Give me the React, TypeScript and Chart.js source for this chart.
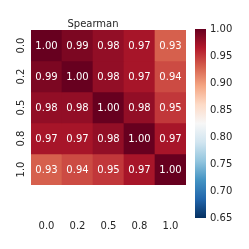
import React, { useEffect, useRef } from "react";
import { Chart, registerables } from "chart.js";

Chart.register(...registerables);

const xLabels = ["0.0", "0.2", "0.5", "0.8", "1.0"];
const yLabels = ["0.0", "0.2", "0.5", "0.8", "1.0"];
const row0 = [1.0, 0.99, 0.98, 0.97, 0.93];
const row1 = [0.99, 1.0, 0.98, 0.97, 0.94];
const row2 = [0.98, 0.98, 1.0, 0.98, 0.95];
const row3 = [0.97, 0.97, 0.98, 1.0, 0.97];
const row4 = [0.93, 0.94, 0.95, 0.97, 1.0];
const rows = [row0, row1, row2, row3, row4];
const vmin = 0.65;
const vmax = 1.0;
const cbarTicks = [0.65, 0.7, 0.75, 0.8, 0.85, 0.9, 0.95, 1.0];
const title = "Spearman";

// RdBu_r stops
const stops: number[][] = [
  [5, 48, 97],
  [33, 102, 172],
  [67, 147, 195],
  [146, 197, 222],
  [209, 229, 240],
  [247, 247, 247],
  [253, 219, 199],
  [244, 165, 130],
  [214, 96, 77],
  [178, 24, 43],
  [103, 0, 31],
];

function cmap(v: number): string {
  let t = (v - vmin) / (vmax - vmin);
  t = Math.max(0, Math.min(1, t));
  const p = t * (stops.length - 1);
  const i = Math.min(stops.length - 2, Math.floor(p));
  const f = p - i;
  const a = stops[i];
  const b = stops[i + 1];
  const c = a.map((x, k) => Math.round(x + (b[k] - x) * f));
  return `rgb(${c[0]},${c[1]},${c[2]})`;
}

const FONT = "'DejaVu Sans', sans-serif";

const annotPlugin = {
  id: "annot",
  afterDatasetsDraw(chart: any) {
    const ctx = chart.ctx;
    ctx.save();
    ctx.fillStyle = "#ffffff";
    ctx.font = `10px ${FONT}`;
    ctx.textAlign = "center";
    ctx.textBaseline = "middle";
    chart.data.datasets.forEach((ds: any, di: number) => {
      const meta = chart.getDatasetMeta(di);
      meta.data.forEach((el: any, j: number) => {
        const { x, y, base } = el.getProps(["x", "y", "base"], true);
        ctx.fillText(rows[di][j].toFixed(2), x, (y + base) / 2 + 0.5);
      });
    });
    ctx.restore();
  },
};

export default function App() {
  const hmRef = useRef<HTMLCanvasElement>(null);
  const cbRef = useRef<HTMLCanvasElement>(null);

  useEffect(() => {
    const datasets = rows.map((r, i) => ({
      label: yLabels[i],
      data: r.map(() => [i, i + 1]),
      backgroundColor: r.map((v) => cmap(v)),
      borderWidth: 0,
      barPercentage: 1.0,
      categoryPercentage: 1.0,
      grouped: false,
    }));
    const hm = new Chart(hmRef.current!, {
      type: "bar",
      data: { labels: xLabels, datasets: datasets as any },
      options: {
        animation: false,
        responsive: false,
        maintainAspectRatio: false,
        layout: { padding: { left: 0, right: 63, top: 0, bottom: 0 } },
        plugins: {
          legend: { display: false },
          tooltip: { enabled: false },
          title: {
            display: true,
            text: title,
            color: "#262626",
            font: { family: FONT, size: 10, weight: "normal" as any },
            padding: { top: 18, bottom: 0 },
          },
        },
        scales: {
          x: {
            type: "category",
            grid: { display: false, drawTicks: false },
            border: { display: false },
            ticks: {
              color: "#262626",
              font: { family: FONT, size: 10 },
              padding: 35,
              maxRotation: 0,
              minRotation: 0,
            },
            afterFit: (s: any) => {
              s.height = 64;
            },
          },
          y: {
            type: "linear",
            min: 0,
            max: 5,
            reverse: true,
            grid: { display: false, drawTicks: false },
            border: { display: false },
            afterBuildTicks: (s: any) => {
              s.ticks = yLabels.map((_, i) => ({ value: i + 0.5 }));
            },
            ticks: {
              color: "#262626",
              font: { family: FONT, size: 10 },
              padding: 2,
              minRotation: 90,
              maxRotation: 90,
              crossAlign: "center",
              callback: (v: any) => yLabels[Math.floor(Number(v))],
            },
            afterFit: (s: any) => {
              s.width = 31;
            },
          },
        },
      },
      plugins: [annotPlugin],
    });

    const cb = new Chart(cbRef.current!, {
      type: "bar",
      data: {
        labels: ["cbar"],
        datasets: [
          {
            data: [[vmin, vmax]] as any,
            barPercentage: 1.0,
            categoryPercentage: 1.0,
            borderWidth: 0,
            backgroundColor: (context: any) => {
              const chart = context.chart;
              const area = chart.chartArea;
              if (!area) return cmap(vmax);
              const ys = chart.scales.y;
              const g = chart.ctx.createLinearGradient(0, ys.getPixelForValue(vmin), 0, ys.getPixelForValue(vmax));
              stops.forEach((_, k) => {
                const v = vmin + ((vmax - vmin) * k) / (stops.length - 1);
                g.addColorStop(k / (stops.length - 1), cmap(v));
              });
              return g;
            },
          },
        ],
      },
      options: {
        animation: false,
        responsive: false,
        maintainAspectRatio: false,
        layout: { padding: { left: 5, right: 0, top: 29, bottom: 31 } },
        plugins: { legend: { display: false }, tooltip: { enabled: false } },
        scales: {
          x: { display: false },
          y: {
            position: "right",
            min: vmin,
            max: vmax,
            grid: { display: false, drawOnChartArea: false, drawTicks: true, tickLength: 3, color: "#262626" } as any,
            border: { display: false },
            afterBuildTicks: (s: any) => {
              s.ticks = cbarTicks.map((v) => ({ value: v }));
            },
            ticks: {
              color: "#262626",
              font: { family: FONT, size: 10 },
              padding: 1,
              callback: (v: any) => Number(v).toFixed(2),
            },
            afterFit: (s: any) => {
              s.width = 43;
            },
          },
        },
      },
    });

    return () => {
      hm.destroy();
      cb.destroy();
    };
  }, []);

  return (
    <div style={{ position: "fixed", left: 0, top: 0, width: 249, height: 249, background: "#fff" }}>
      <canvas ref={hmRef} width={249} height={249} style={{ position: "absolute", left: 0, top: 0, width: 249, height: 249 }} />
      <canvas ref={cbRef} width={59} height={249} style={{ position: "absolute", left: 190, top: 0, width: 59, height: 249 }} />
    </div>
  );
}
